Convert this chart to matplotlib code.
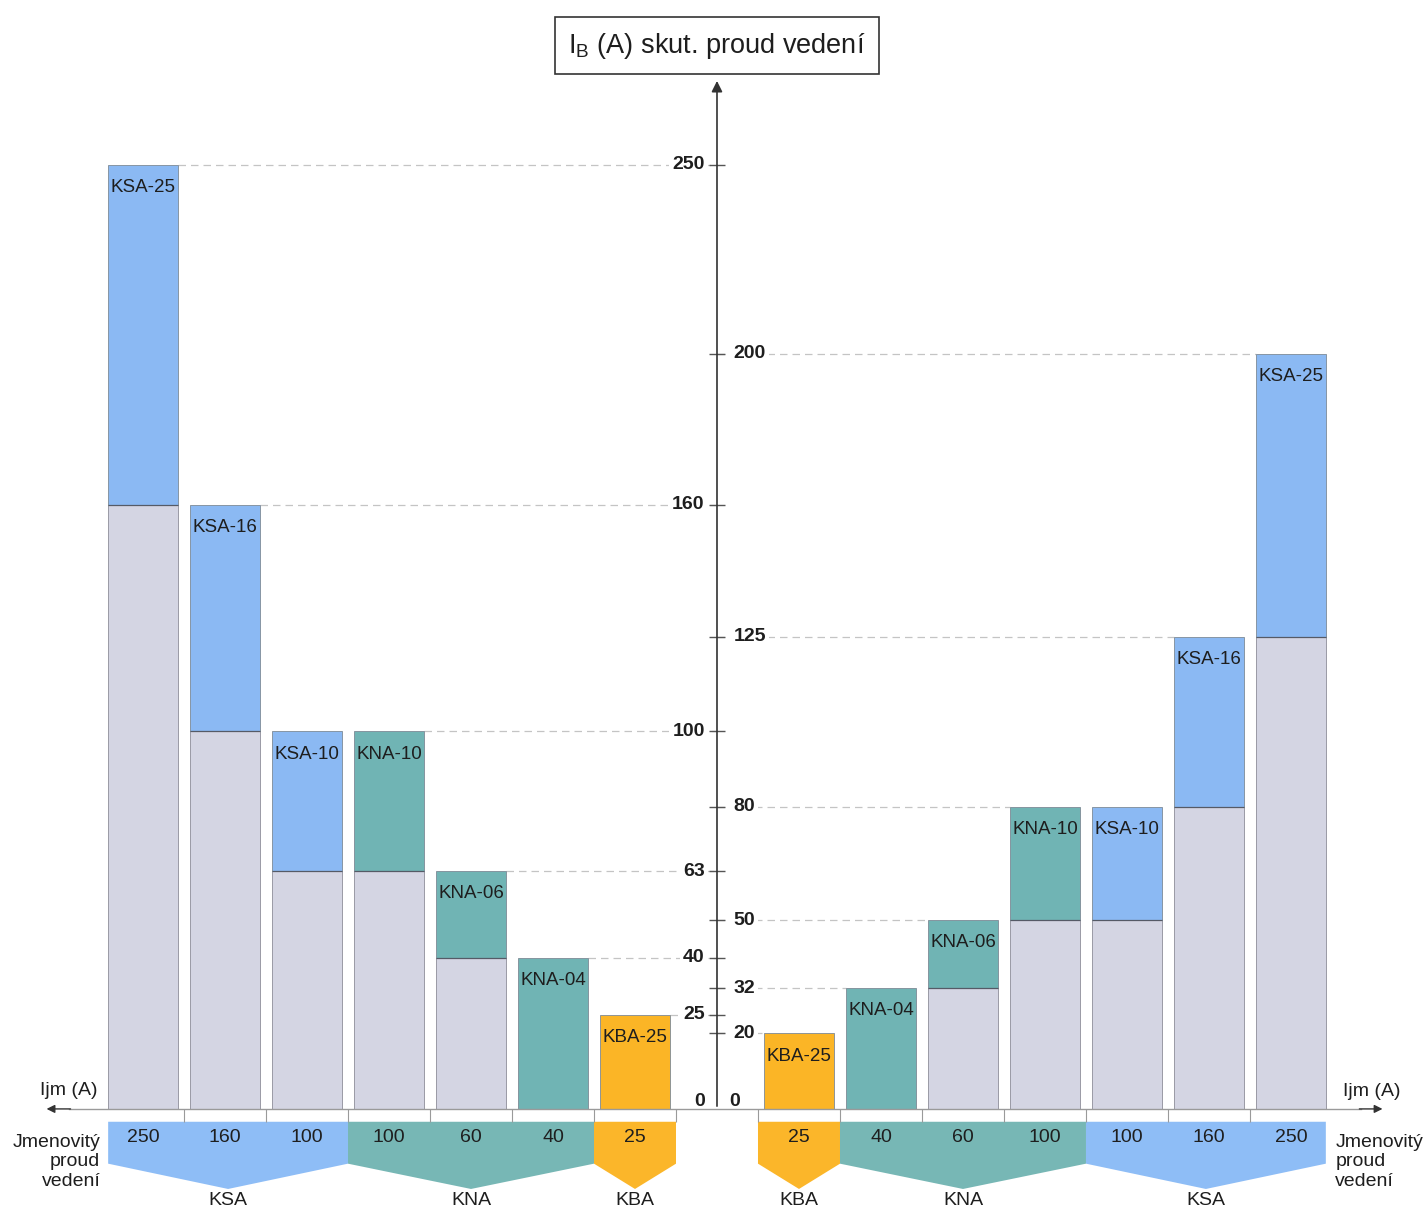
import numpy as np
import matplotlib.pyplot as plt
from matplotlib.patches import Polygon

plt.rcParams['font.family'] = ['Liberation Sans', 'DejaVu Sans']
plt.rcParams['mathtext.fontset'] = 'custom'
plt.rcParams['mathtext.rm'] = 'Liberation Sans'

# left half (mirrored, axis in the middle)
left_names = ['KSA-25', 'KSA-16', 'KSA-10', 'KNA-10', 'KNA-06', 'KNA-04', 'KBA-25']
left_types = ['KSA', 'KSA', 'KSA', 'KNA', 'KNA', 'KNA', 'KBA']
left_nominal = [250, 160, 100, 100, 60, 40, 25]
left_base = [160, 100, 63, 63, 40, 0, 0]
left_top = [250, 160, 100, 100, 63, 40, 25]
left_ticks = [0, 25, 40, 63, 100, 160, 250]

# right half
right_names = ['KBA-25', 'KNA-04', 'KNA-06', 'KNA-10', 'KSA-10', 'KSA-16', 'KSA-25']
right_types = ['KBA', 'KNA', 'KNA', 'KNA', 'KSA', 'KSA', 'KSA']
right_nominal = [25, 40, 60, 100, 100, 160, 250]
right_base = [0, 0, 32, 50, 50, 80, 125]
right_top = [20, 32, 50, 80, 80, 125, 200]
right_ticks = [0, 20, 32, 50, 80, 125, 200]

BAR_COLORS = {'KSA': '#8bb9f3', 'KNA': '#70b4b4', 'KBA': '#fbb526'}
BAND_COLORS = {'KSA': '#8ebdf6', 'KNA': '#77b7b5', 'KBA': '#fbb62a'}
GREY = '#d4d5e3'
TXT = '#1e1e1e'
W = 0.85

fig = plt.figure(figsize=(14.28, 12.12), dpi=100)
ax = fig.add_axes([0, 0, 1, 1])
ax.set_xlim(-8.744, 8.671)
ax.set_ylim(-27.3, 293.7)
ax.axis('off')


def draw_side(xs, names, types, nominal, base, top, ticks, side):
    xs = np.array(xs, dtype=float)
    base = np.array(base)
    top = np.array(top)
    ax.bar(xs, base, W, color=GREY, edgecolor='#8d8e99', lw=0.6, zorder=2)
    ax.bar(xs, top - base, W, bottom=base, color=[BAR_COLORS[t] for t in types],
           edgecolor='#7d8a96', lw=0.6, zorder=2)
    for x, b in zip(xs, base):
        if b > 0:
            ax.hlines(b, x - W / 2, x + W / 2, color='#555a66', lw=0.9, zorder=3)
    for x, n, t in zip(xs, names, top):
        ax.text(x, t - 6, n, ha='center', va='center', fontsize=13.5, color=TXT, zorder=4)

    # dashed guide lines + tick labels on the central axis
    for v in ticks:
        if v == 0:
            lx = -0.21 if side < 0 else 0.21
            ax.text(lx, 2.0, '0', ha='center', va='center', fontsize=14,
                    fontweight='bold', color=TXT, zorder=5)
            continue
        hit = [x for x, t in zip(xs, top) if t == v]
        if hit:
            if side < 0:
                x0 = max(hit) + W / 2
                ax.hlines(v, x0, 0, color='#c4c4c4', lw=0.9, linestyles=(0, (6, 4)), zorder=1)
            else:
                x1 = min(hit) - W / 2
                ax.hlines(v, 0, x1, color='#c4c4c4', lw=0.9, linestyles=(0, (6, 4)), zorder=1)
        ax.hlines(v, -0.1, 0.1, color='#555555', lw=1.0, zorder=3)
        if side < 0:
            ax.text(-0.15, v, str(v), ha='right', va='center', fontsize=14,
                    fontweight='bold', color=TXT, zorder=5,
                    bbox=dict(boxstyle='square,pad=0.15', fc='white', ec='none'))
        else:
            ax.text(0.2, v, str(v), ha='left', va='center', fontsize=14,
                    fontweight='bold', color=TXT, zorder=5,
                    bbox=dict(boxstyle='square,pad=0.15', fc='white', ec='none'))

    # small separator cells under the Ijm axis
    for x in xs:
        b = x - 0.5 if side < 0 else x + 0.5
        if abs(b) < 7:
            ax.vlines(b, -3.4, 0, color='#9a9a9a', lw=0.8, zorder=2)
    bnd = xs[-1] + 0.5 if side < 0 else xs[0] - 0.5
    ax.vlines(bnd, -3.4, 0, color='#9a9a9a', lw=0.8, zorder=2)

    # nominal current band with chevrons
    groups = []
    for x, t in zip(xs, types):
        if groups and groups[-1][0] == t:
            groups[-1][1].append(x)
        else:
            groups.append([t, [x]])
    for t, gx in groups:
        lo, hi = min(gx), max(gx)
        x0 = lo - (W / 2 if abs(lo) == 7 else 0.5)
        x1 = hi + (W / 2 if abs(hi) == 7 else 0.5)
        xm = (x0 + x1) / 2
        poly = Polygon([(x0, -3.4), (x1, -3.4), (x1, -14.5), (xm, -21.2), (x0, -14.5)],
                       closed=True, fc=BAND_COLORS[t], ec='none', zorder=1)
        ax.add_patch(poly)
        ax.text(xm, -24.3, t, ha='center', va='center', fontsize=14, color=TXT)
    for x, n in zip(xs, nominal):
        ax.text(x, -7.7, str(n), ha='center', va='center', fontsize=14, color=TXT, zorder=4)


draw_side(np.arange(-7, 0), left_names, left_types, left_nominal, left_base, left_top, left_ticks, -1)
draw_side(np.arange(1, 8), right_names, right_types, right_nominal, right_base, right_top, right_ticks, 1)

# horizontal Ijm axis with arrows on both ends
ax.plot([-7.9, 7.85], [0, 0], color='#9a9a9a', lw=1.0, zorder=3)
ax.annotate('', xy=(-8.21, 0), xytext=(-7.85, 0),
            arrowprops=dict(arrowstyle='-|>', color='#333333', lw=1.0, mutation_scale=12))
ax.annotate('', xy=(8.15, 0), xytext=(7.8, 0),
            arrowprops=dict(arrowstyle='-|>', color='#333333', lw=1.0, mutation_scale=12))
ax.text(-7.91, 5.0, 'Ijm (A)', ha='center', va='center', fontsize=14, color=TXT)
ax.text(7.99, 4.5, 'Ijm (A)', ha='center', va='center', fontsize=14, color=TXT)
ax.text(-7.52, -14.0, 'Jmenovitý\nproud\nvedení', ha='right', va='center', fontsize=14,
        color=TXT, linespacing=1.2, multialignment='right')
ax.text(7.54, -14.0, 'Jmenovitý\nproud\nvedení', ha='left', va='center', fontsize=14,
        color=TXT, linespacing=1.2, multialignment='left')

# central vertical axis
ax.annotate('', xy=(0, 273.0), xytext=(0, 0),
            arrowprops=dict(arrowstyle='-|>', color='#333333', lw=1.2, mutation_scale=16),
            zorder=3)
ax.text(0, 281.6, r'I$_{\rm B}$ (A) skut. proud vedení', ha='center', va='center',
        fontsize=19.5, color=TXT,
        bbox=dict(boxstyle='square,pad=0.5', fc='white', ec='#333333', lw=1.2))

fig.savefig('out.png', dpi=100, facecolor='white')
